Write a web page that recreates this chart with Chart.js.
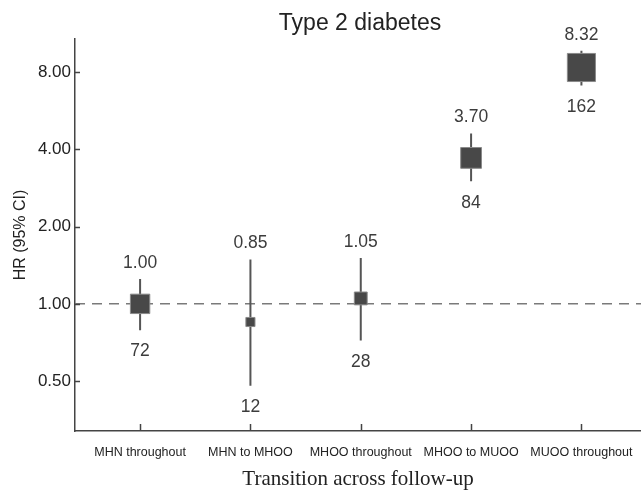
<!DOCTYPE html>
<html>
<head>
<meta charset="utf-8">
<script src="https://cdn.jsdelivr.net/npm/chart.js@4/dist/chart.umd.min.js"></script>
<style>
  html, body { margin: 0; padding: 0; background: #fff; }
  #wrap { width: 641px; height: 492px; position: relative; }
</style>
</head>
<body>
<div id="wrap"><canvas id="c"></canvas></div>
<script>
// forest-style plot: Type 2 diabetes HR by transition group

const categories = ["MHN throughout", "MHN to MHOO", "MHOO throughout", "MHOO to MUOO", "MUOO throughout"];
const hr = [1.00, 0.85, 1.05, 3.70, 8.32];
const ciLow = [0.79, 0.48, 0.72, 3.00, 7.08];
const ciHigh = [1.25, 1.49, 1.51, 4.60, 9.67];
const cases = [72, 12, 28, 84, 162];
const yTicks = [0.5, 1, 2, 4, 8];

const X_MIN = -0.59, X_MAX = 4.54;
const Y_MIN = 0.32, Y_MAX = 10.74;
const REF = 1;

// square side follows sqrt(cases)
function rectRadius(n) {
    const side = 2.05 * Math.sqrt(n) + 2;
    return side / 1.414;
}

const ciPoints = [];
categories.forEach((c, i) => {
    ciPoints.push({ x: i, y: ciLow[i] });
    ciPoints.push({ x: i, y: ciHigh[i] });
    ciPoints.push({ x: i, y: null });
});

const annotate = {
    id: "annotate",
    afterDatasetsDraw(chart) {
        const ctx = chart.ctx;
        const xs = chart.scales.x, ys = chart.scales.y;
        const area = chart.chartArea;
        ctx.save();

        // inward tick marks
        ctx.strokeStyle = "#444";
        ctx.lineWidth = 1.5;
        ctx.beginPath();
        categories.forEach((c, i) => {
            const px = Math.round(xs.getPixelForValue(i)) + 0.5;
            ctx.moveTo(px, area.bottom);
            ctx.lineTo(px, area.bottom - 7);
        });
        yTicks.forEach(v => {
            const py = Math.round(ys.getPixelForValue(v)) + 0.5;
            ctx.moveTo(area.left, py);
            ctx.lineTo(area.left + 5, py);
        });
        ctx.stroke();

        // value labels
        ctx.fillStyle = "#3c3c3c";
        ctx.font = "17.5px 'Liberation Sans', Arial, sans-serif";
        ctx.textAlign = "center";
        ctx.textBaseline = "middle";
        categories.forEach((c, i) => {
            const px = xs.getPixelForValue(i);
            ctx.fillText(hr[i].toFixed(2), px, ys.getPixelForValue(ciHigh[i]) - 16);
            ctx.fillText(String(cases[i]), px, ys.getPixelForValue(ciLow[i]) + 21.5);
        });

        // title over plot area
        ctx.fillStyle = "#222";
        ctx.font = "23px 'Liberation Sans', Arial, sans-serif";
        ctx.fillText("Type 2 diabetes", (area.left + area.right) / 2 + 2, 24);
        ctx.restore();
    }
};

new Chart(document.getElementById("c"), {
    type: "line",
    data: {
        datasets: [
            {
                label: "ref",
                data: [{ x: X_MIN, y: REF }, { x: X_MAX, y: REF }],
                borderColor: "#7a7a7a",
                borderWidth: 1.5,
                borderDash: [10, 7],
                pointRadius: 0,
                order: 3
            },
            {
                label: "ci",
                data: ciPoints,
                borderColor: "#555",
                borderWidth: 2,
                pointRadius: 0,
                spanGaps: false,
                order: 2
            },
            {
                label: "hr",
                data: hr.map((v, i) => ({ x: i, y: v })),
                showLine: false,
                pointStyle: "rect",
                pointRadius: cases.map(rectRadius),
                pointHoverRadius: cases.map(rectRadius),
                backgroundColor: "#484848",
                borderColor: "#8a8a8a",
                borderWidth: 1,
                order: 1
            }
        ]
    },
    options: {
        responsive: true,
        maintainAspectRatio: false,
        animation: false,
        layout: { autoPadding: false, padding: { top: 39, left: 0, right: 0, bottom: 0 } },
        plugins: {
            legend: { display: false },
            tooltip: { enabled: false }
        },
        scales: {
            x: {
                type: "linear",
                min: X_MIN,
                max: X_MAX,
                bounds: "data",
                afterBuildTicks: s => { s.ticks = categories.map((c, i) => ({ value: i })); },
                afterFit: s => {
                    s.height = 61;
                    s.paddingLeft = 0; s.paddingRight = 0;
                },
                grid: { display: false, drawTicks: false },
                border: { display: true, color: "#444", width: 1.5 },
                ticks: {
                    padding: 14.5,
                    color: "#222",
                    font: { family: "'Liberation Sans', Arial, sans-serif", size: 12.5 },
                    maxRotation: 0,
                    autoSkip: false,
                    callback: v => categories[v] || ""
                },
                title: {
                    display: true,
                    text: "Transition across follow-up",
                    color: "#222",
                    font: { family: "'Liberation Serif', 'Times New Roman', serif", size: 21 },
                    padding: { top: 0, bottom: 0 }
                }
            },
            y: {
                type: "logarithmic",
                min: Y_MIN,
                max: Y_MAX,
                bounds: "data",
                afterBuildTicks: s => { s.ticks = yTicks.map(v => ({ value: v })); },
                afterFit: s => {
                    s.width = 75;
                    s.paddingTop = 0; s.paddingBottom = 0;
                },
                grid: { display: false, drawTicks: false },
                border: { display: true, color: "#444", width: 1.5 },
                ticks: {
                    padding: 4,
                    color: "#222",
                    font: { family: "'Liberation Sans', Arial, sans-serif", size: 17 },
                    callback: v => Number(v).toFixed(2)
                },
                title: {
                    display: true,
                    text: "HR (95% CI)",
                    color: "#222",
                    font: { family: "'Liberation Sans', Arial, sans-serif", size: 16 },
                    padding: { top: 11, bottom: 0 }
                }
            }
        }
    },
    plugins: [annotate]
});
</script>
</body>
</html>
